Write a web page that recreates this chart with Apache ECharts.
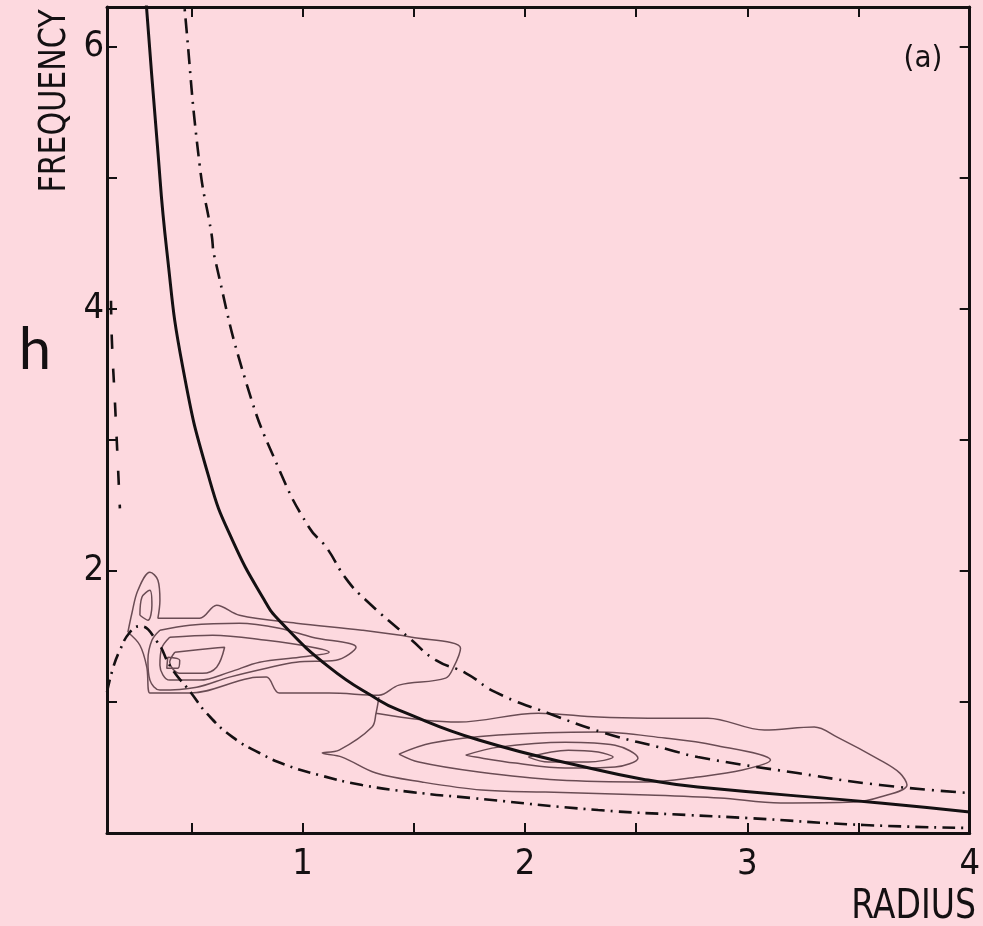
<!DOCTYPE html>
<html><head><meta charset="utf-8">
<script src="https://cdn.jsdelivr.net/npm/echarts@6/dist/echarts.min.js"></script>
<style>html,body{margin:0;padding:0;background:#fdd9df;}#c{width:983px;height:926px;}</style>
</head><body><div id="c"></div>
<script>
// Axis ticks and labels
const xTickValues = [0.5, 1, 1.5, 2, 2.5, 3, 3.5];
const xLabelValues = [1, 2, 3, 4];
const yTickValues = [1, 2, 3, 4, 5, 6];
const yLabelValues = [2, 4, 6];

// Curves [radius, frequency]
const solidCurve = [[0.291,6.45],[0.299,6.27],[0.344,5.3],[0.389,4.44],[0.461,3.55],[0.582,2.69],[0.685,2.23],[0.828,1.775],[0.895,1.62],[1.119,1.265],[1.343,1.013],[1.433,0.937],[1.792,0.709],[2.329,0.48],[2.553,0.404],[2.777,0.35],[3.597,0.229],[4.0,0.16]];
const upperCurve = [[0.462,6.45],[0.470,6.27],[0.537,5.09],[0.590,4.57],[0.604,4.39],[0.747,3.43],[0.895,2.77],[1.029,2.33],[1.106,2.18],[1.195,1.94],[1.285,1.775],[1.491,1.47],[1.599,1.318],[1.733,1.22],[1.867,1.074],[2.105,0.914],[2.360,0.762],[2.656,0.632],[2.777,0.579],[3.225,0.457],[3.597,0.366],[4.0,0.305]];
const lowerCurve = [[0.12,1.074],[0.147,1.257],[0.178,1.394],[0.223,1.531],[0.268,1.577],[0.344,1.463],[0.407,1.265],[0.496,1.074],[0.568,0.914],[0.685,0.731],[0.806,0.61],[0.926,0.518],[1.074,0.442],[1.267,0.366],[1.491,0.312],[1.760,0.267],[2.329,0.175],[2.732,0.137],[3.001,0.114],[3.525,0.061],[4.0,0.038]];
const axisSideCurve = [[0.138,4.06],[0.142,3.756],[0.156,3.276],[0.178,2.476]];

// Contours (closed loops) [radius, frequency]
const contourL1 = [[0.214,1.531],[0.232,1.676],[0.259,1.851],[0.313,1.989],[0.349,1.928],[0.358,1.775],[0.349,1.638],[0.537,1.638],[0.613,1.737],[0.716,1.661],[0.971,1.600],[1.267,1.547],[1.491,1.493],[1.710,1.410],[1.679,1.265],[1.643,1.181],[1.433,1.128],[1.343,1.051],[1.119,1.067],[0.895,1.067],[0.837,1.189],[0.761,1.181],[0.492,1.067],[0.313,1.067],[0.299,1.265],[0.268,1.432],[0.214,1.531]];
const contourSpike = [[0.268,1.661],[0.277,1.798],[0.313,1.851],[0.322,1.737],[0.304,1.623],[0.268,1.661]];
const contourL2 = [[0.358,1.547],[0.492,1.585],[0.716,1.600],[0.895,1.562],[1.043,1.493],[1.240,1.417],[1.150,1.318],[0.971,1.303],[0.837,1.257],[0.671,1.189],[0.523,1.112],[0.358,1.090],[0.313,1.166],[0.304,1.318],[0.322,1.470],[0.358,1.547]];
const contourL3 = [[0.402,1.493],[0.595,1.509],[0.837,1.470],[1.043,1.417],[1.119,1.379],[0.985,1.341],[0.806,1.303],[0.671,1.227],[0.537,1.166],[0.402,1.166],[0.358,1.280],[0.366,1.410],[0.402,1.493]];
const contourL4 = [[0.425,1.379],[0.595,1.410],[0.649,1.417],[0.613,1.265],[0.550,1.219],[0.447,1.219],[0.402,1.303],[0.425,1.379]];
const contourL5 = [[0.393,1.341],[0.447,1.318],[0.438,1.257],[0.389,1.257],[0.393,1.341]];
const contourR1 = [[1.343,1.036],[1.330,0.914],[1.312,0.808],[1.164,0.632],[1.088,0.610],[1.177,0.579],[1.330,0.457],[1.536,0.389],[1.805,0.328],[2.091,0.312],[2.553,0.290],[2.876,0.267],[3.149,0.229],[3.480,0.236],[3.597,0.274],[3.718,0.366],[3.686,0.457],[3.597,0.556],[3.404,0.731],[3.301,0.808],[3.077,0.785],[2.822,0.876],[2.553,0.876],[2.329,0.884],[2.060,0.914],[1.701,0.846],[1.330,0.914]];
const contourR2 = [[1.433,0.602],[1.581,0.686],[1.881,0.747],[2.329,0.770],[2.629,0.724],[2.853,0.670],[3.104,0.556],[2.978,0.480],[2.777,0.427],[2.553,0.389],[2.149,0.404],[1.792,0.465],[1.522,0.541],[1.433,0.602]];
const contourR3 = [[1.733,0.594],[1.881,0.655],[2.181,0.693],[2.405,0.670],[2.508,0.571],[2.405,0.503],[2.181,0.495],[1.957,0.533],[1.778,0.579],[1.733,0.594]];
const contourR4 = [[2.015,0.579],[2.195,0.632],[2.329,0.617],[2.396,0.579],[2.284,0.541],[2.105,0.541],[2.015,0.579]];

const contours = [contourL1, contourSpike, contourL2, contourL3, contourL4, contourL5, contourR1, contourR2, contourR3, contourR4];

const FONT = "'Liberation Sans Narrow','DejaVu Sans Condensed','Liberation Sans',sans-serif";
const INK = '#141012';
const CONTOUR = '#6a4c54';

const chart = echarts.init(document.getElementById('c'), null, {renderer: 'canvas'});

const axisCommon = {
  type: 'value',
  splitLine: {show: false},
  axisLine: {show: true, onZero: false, lineStyle: {color: INK, width: 3}},
};

const series = [];
contours.forEach((c) => {
  series.push({
    type: 'line', data: c, showSymbol: false, smooth: 0.35, silent: true,
    lineStyle: {color: CONTOUR, width: 1.5}, z: 2
  });
});
series.push({type: 'line', data: solidCurve, showSymbol: false, smooth: true, clip: true,
  lineStyle: {color: INK, width: 3}, z: 5});
series.push({type: 'line', data: upperCurve, showSymbol: false, smooth: true, clip: true,
  lineStyle: {color: INK, width: 2.6, type: [15, 7, 2, 7]}, z: 5});
series.push({type: 'line', data: lowerCurve, showSymbol: false, smooth: true, clip: true,
  lineStyle: {color: INK, width: 2.6, type: [13, 6, 2, 6]}, z: 5});
series.push({type: 'line', data: axisSideCurve, showSymbol: false, smooth: true, clip: true,
  lineStyle: {color: INK, width: 2.6, type: [14, 20]}, z: 5});

chart.setOption({
  animation: false,
  backgroundColor: '#fdd9df',
  grid: {left: 107, right: 10, top: 7, bottom: 93, containLabel: false},
  xAxis: [
    Object.assign({}, axisCommon, {
      min: 0.12, max: 4, position: 'bottom',
      axisTick: {show: true, inside: true, length: 10, customValues: xTickValues, lineStyle: {color: INK, width: 2}},
      axisLabel: {show: true, customValues: xLabelValues, fontSize: 36, fontFamily: FONT, color: INK, margin: 14}
    }),
    Object.assign({}, axisCommon, {
      min: 0.12, max: 4, position: 'top',
      axisTick: {show: true, inside: true, length: 10, customValues: xTickValues, lineStyle: {color: INK, width: 2}},
      axisLabel: {show: false}
    })
  ],
  yAxis: [
    Object.assign({}, axisCommon, {
      min: 0, max: 6.3, position: 'left',
      axisTick: {show: true, inside: true, length: 10, customValues: yTickValues, lineStyle: {color: INK, width: 2}},
      axisLabel: {show: true, customValues: yLabelValues, fontSize: 36, fontFamily: FONT, color: INK, margin: 3}
    }),
    Object.assign({}, axisCommon, {
      min: 0, max: 6.3, position: 'right',
      axisTick: {show: true, inside: true, length: 10, customValues: yTickValues, lineStyle: {color: INK, width: 2}},
      axisLabel: {show: false}
    })
  ],
  series: series,
  graphic: [
    {type: 'text', x: 55, y: 101, rotation: Math.PI / 2, scaleX: 0.88,
      style: {text: 'FREQUENCY', font: '38px ' + FONT, fill: INK, align: 'center', verticalAlign: 'middle'}},
    {type: 'text', x: 976, y: 908, scaleX: 0.92,
      style: {text: 'RADIUS', font: '40px ' + FONT, fill: INK, align: 'right', verticalAlign: 'middle'}},
    {type: 'text', x: 923, y: 59,
      style: {text: '(a)', font: '31px ' + FONT, fill: INK, align: 'center', verticalAlign: 'middle'}},
    {type: 'text', x: 35, y: 350,
      style: {text: 'h', font: '58px Lato, "Noto Sans", sans-serif', fill: INK, align: 'center', verticalAlign: 'middle'}}
  ]
});
</script>
</body></html>
